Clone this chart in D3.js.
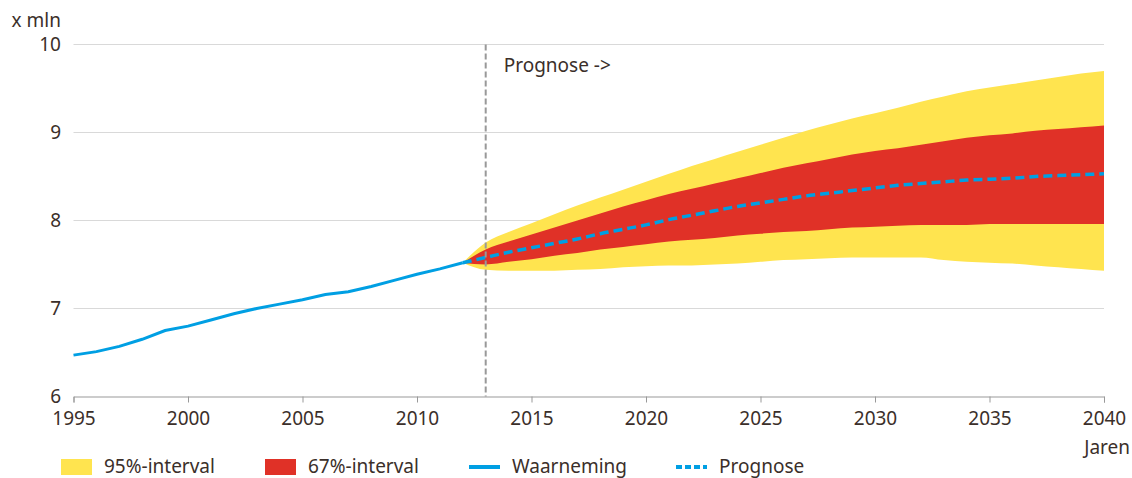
<!DOCTYPE html>
<html>
<head>
<meta charset="utf-8">
<script src="https://cdn.jsdelivr.net/npm/d3@7"></script>
<style>
  body { margin: 0; background: #fff; }
  text { font-family: "Noto Sans", sans-serif; fill: #3b2f2a; }
</style>
</head>
<body>
<div id="chart"></div>
<script>
// observed households (x mln)
let obsYears = d3.range(1995, 2013);
let obsValues = [6.47, 6.51, 6.57, 6.65, 6.75, 6.80, 6.87, 6.94, 7.00, 7.05,
                 7.10, 7.16, 7.19, 7.25, 7.32, 7.39, 7.45, 7.52];

// forecast 2012..2040
let fcYears = d3.range(2012, 2041);
let median = [7.52, 7.58, 7.64, 7.69, 7.74, 7.79, 7.85, 7.90, 7.95, 8.01,
              8.06, 8.11, 8.16, 8.20, 8.24, 8.28, 8.31, 8.34, 8.37, 8.40,
              8.42, 8.44, 8.46, 8.47, 8.48, 8.50, 8.51, 8.52, 8.53];
let hi67 = [7.52, 7.67, 7.76, 7.84, 7.92, 8.00, 8.08, 8.16, 8.23, 8.30,
            8.36, 8.42, 8.48, 8.54, 8.60, 8.65, 8.70, 8.75, 8.79, 8.82,
            8.86, 8.90, 8.94, 8.97, 8.99, 9.02, 9.04, 9.06, 9.08];
let lo67 = [7.52, 7.50, 7.53, 7.56, 7.60, 7.63, 7.67, 7.70, 7.73, 7.76,
            7.78, 7.80, 7.83, 7.85, 7.87, 7.88, 7.90, 7.92, 7.93, 7.94,
            7.95, 7.95, 7.95, 7.96, 7.96, 7.96, 7.96, 7.96, 7.96];
let hi95 = [7.52, 7.75, 7.87, 7.97, 8.07, 8.17, 8.26, 8.35, 8.44, 8.53,
            8.62, 8.70, 8.78, 8.86, 8.94, 9.02, 9.09, 9.16, 9.22, 9.28,
            9.35, 9.41, 9.47, 9.51, 9.55, 9.59, 9.63, 9.67, 9.70];
let lo95 = [7.52, 7.44, 7.43, 7.43, 7.43, 7.44, 7.45, 7.47, 7.48, 7.49,
            7.49, 7.50, 7.51, 7.53, 7.55, 7.56, 7.57, 7.58, 7.58, 7.58,
            7.58, 7.55, 7.53, 7.52, 7.51, 7.49, 7.47, 7.45, 7.43];

let xTicks = d3.range(1995, 2041, 5);
let yTicks = [6, 7, 8, 9, 10];
let forecastStart = 2013;
let legendItems = ['95%-interval', '67%-interval', 'Waarneming', 'Prognose'];

let yellow = '#ffe44f', red = '#e03127', blue = '#009fe3';
let fs = '19px';

let width = 1132, height = 478;
let svg = d3.select('#chart').append('svg')
    .attr('width', width)
    .attr('height', height);

let x = d3.scaleLinear().domain([1995, 2040]).range([73.5, 1104]);
let y = d3.scaleLinear().domain([6, 10]).range([396.5, 44.5]);

// gridlines
svg.append('g')
    .selectAll('line')
    .data(yTicks.slice(1))
    .enter()
    .append('line')
    .attr('x1', x(1995)).attr('x2', x(2040))
    .attr('y1', d => y(d)).attr('y2', d => y(d))
    .attr('stroke', '#d9d9d9')
    .attr('stroke-width', 1);

// y labels
svg.append('g')
    .selectAll('text')
    .data(yTicks)
    .enter()
    .append('text')
    .attr('x', 61)
    .attr('y', d => y(d))
    .attr('dy', '0.35em')
    .attr('text-anchor', 'end')
    .style('font-size', fs)
    .text(d => d);

svg.append('text')
    .attr('x', 61).attr('y', 27)
    .attr('text-anchor', 'end')
    .style('font-size', fs)
    .text('x mln');

// bands
let area = (lo, hi) => d3.area()
    .x((d, i) => x(fcYears[i]))
    .y0((d, i) => y(lo[i]))
    .y1((d, i) => y(hi[i]))
    .curve(d3.curveMonotoneX);

svg.append('path').datum(fcYears).attr('d', area(lo95, hi95)).attr('fill', yellow);
svg.append('path').datum(fcYears).attr('d', area(lo67, hi67)).attr('fill', red);

// observed
svg.append('path')
    .datum(obsValues)
    .attr('d', d3.line().x((d, i) => x(obsYears[i])).y(d => y(d)))
    .attr('fill', 'none')
    .attr('stroke', blue)
    .attr('stroke-width', 3);

// forecast median
svg.append('path')
    .datum(median)
    .attr('d', d3.line().x((d, i) => x(fcYears[i])).y(d => y(d)).curve(d3.curveMonotoneX))
    .attr('fill', 'none')
    .attr('stroke', blue)
    .attr('stroke-width', 3.5)
    .attr('stroke-dasharray', '9,5');

// forecast start line
svg.append('line')
    .attr('x1', x(forecastStart)).attr('x2', x(forecastStart))
    .attr('y1', y(10)).attr('y2', y(6))
    .attr('stroke', '#999')
    .attr('stroke-width', 2)
    .attr('stroke-dasharray', '6,3');

svg.append('text')
    .attr('x', x(forecastStart) + 18).attr('y', 72)
    .style('font-size', fs)
    .text('Prognose ->');

// x axis
let xAxis = svg.append('g')
    .attr('transform', 'translate(0,' + y(6) + ')')
    .call(d3.axisBottom(x).tickValues(xTicks).tickFormat(d3.format('d')).tickSize(6).tickPadding(9));
xAxis.select('.domain').attr('stroke', '#999');
xAxis.selectAll('.tick line').attr('stroke', '#999');
xAxis.selectAll('text')
    .style('font-size', fs)
    .style('font-family', '"Noto Sans", sans-serif')
    .attr('fill', '#3b2f2a');

svg.append('text')
    .attr('x', 1130).attr('y', 454)
    .attr('text-anchor', 'end')
    .style('font-size', fs)
    .text('Jaren');

// legend
let legendX = [61, 265, 469, 676];
let lg = svg.append('g').attr('transform', 'translate(0,466)');
lg.append('rect').attr('x', legendX[0]).attr('y', -7).attr('width', 31).attr('height', 16).attr('fill', yellow);
lg.append('rect').attr('x', legendX[1]).attr('y', -7).attr('width', 31).attr('height', 16).attr('fill', red);
lg.append('line').attr('x1', legendX[2]).attr('x2', legendX[2] + 31).attr('y1', 1).attr('y2', 1)
    .attr('stroke', blue).attr('stroke-width', 4);
lg.append('line').attr('x1', legendX[3]).attr('x2', legendX[3] + 31).attr('y1', 1).attr('y2', 1)
    .attr('stroke', blue).attr('stroke-width', 4).attr('stroke-dasharray', '6,3');
lg.selectAll('text.lab')
    .data(legendItems)
    .enter()
    .append('text')
    .attr('class', 'lab')
    .attr('x', (d, i) => legendX[i] + 43)
    .attr('y', 0)
    .attr('dy', '0.35em')
    .style('font-size', fs)
    .text(d => d);
</script>
</body>
</html>
